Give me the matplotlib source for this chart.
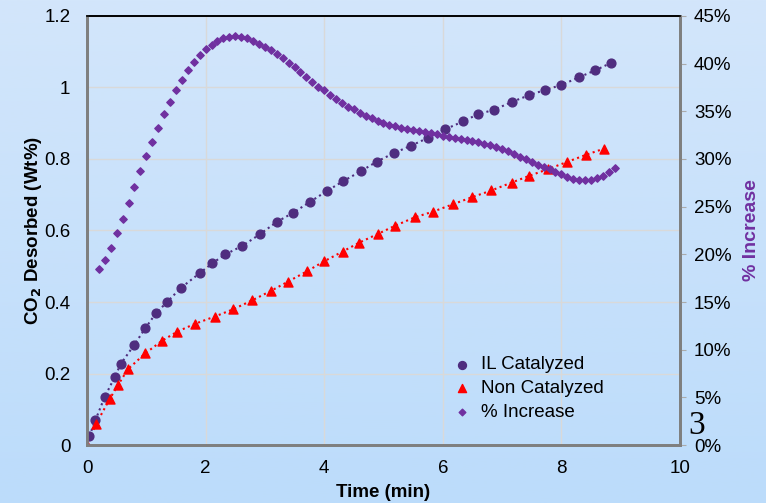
import numpy as np
import matplotlib
matplotlib.use("Agg")
import matplotlib.pyplot as plt
from matplotlib.ticker import FuncFormatter

plt.rcParams['font.family'] = ['Liberation Sans', 'DejaVu Sans']

# IL catalyzed (left axis)
il_time = [0.04, 0.14, 0.30, 0.47, 0.57, 0.80, 0.98, 1.16, 1.35, 1.58, 1.91, 2.11,
           2.33, 2.62, 2.92, 3.20, 3.48, 3.76, 4.04, 4.32, 4.62, 4.89, 5.17, 5.46,
           5.75, 6.04, 6.34, 6.59, 6.87, 7.17, 7.45, 7.72, 8.00, 8.29, 8.57, 8.84]
il_co2 = [0.025, 0.069, 0.135, 0.191, 0.227, 0.281, 0.326, 0.368, 0.400, 0.439, 0.482, 0.508,
          0.533, 0.557, 0.590, 0.624, 0.650, 0.680, 0.710, 0.738, 0.766, 0.793, 0.816, 0.837,
          0.859, 0.883, 0.905, 0.925, 0.938, 0.960, 0.978, 0.993, 1.007, 1.028, 1.048, 1.069]

# non catalyzed (left axis)
nc_time = [0.00, 0.15, 0.38, 0.52, 0.69, 0.98, 1.26, 1.52, 1.82, 2.15, 2.47, 2.79,
           3.10, 3.39, 3.71, 4.00, 4.31, 4.59, 4.90, 5.19, 5.53, 5.84, 6.18, 6.49,
           6.82, 7.16, 7.46, 7.78, 8.10, 8.42, 8.72]
nc_co2 = [0.000, 0.058, 0.128, 0.167, 0.212, 0.256, 0.291, 0.317, 0.339, 0.359, 0.380, 0.405,
          0.431, 0.457, 0.486, 0.514, 0.541, 0.566, 0.590, 0.613, 0.637, 0.653, 0.674, 0.693,
          0.712, 0.734, 0.753, 0.772, 0.792, 0.812, 0.829]

# % increase (right axis)
inc_time = [0.2, 0.3, 0.4, 0.5, 0.6, 0.7, 0.8, 0.9, 1.0, 1.1, 1.2, 1.3, 1.4, 1.5, 1.6,
            1.7, 1.8, 1.9, 2.0, 2.1, 2.2, 2.3, 2.4, 2.5, 2.6, 2.7, 2.8, 2.9, 3.0, 3.1,
            3.2, 3.3, 3.4, 3.5, 3.6, 3.7, 3.8, 3.9, 4.0, 4.1, 4.2, 4.3, 4.4, 4.5, 4.6,
            4.7, 4.8, 4.9, 5.0, 5.1, 5.2, 5.3, 5.4, 5.5, 5.6, 5.7, 5.8, 5.9, 6.0, 6.1,
            6.2, 6.3, 6.4, 6.5, 6.6, 6.7, 6.8, 6.9, 7.0, 7.1, 7.2, 7.3, 7.4, 7.5, 7.6,
            7.7, 7.8, 7.9, 8.0, 8.1, 8.2, 8.3, 8.4, 8.5, 8.6, 8.7, 8.8, 8.9]
inc_pct = [18.5, 19.4, 20.7, 22.2, 23.7, 25.4, 27.1, 28.7, 30.3, 31.8, 33.3, 34.7, 36.0, 37.2, 38.3,
           39.3, 40.2, 40.9, 41.5, 42.0, 42.4, 42.7, 42.8, 42.9, 42.8, 42.7, 42.4, 42.1, 41.8, 41.4,
           41.0, 40.6, 40.1, 39.6, 39.1, 38.6, 38.1, 37.6, 37.2, 36.7, 36.3, 35.9, 35.5, 35.2, 34.8,
           34.5, 34.3, 34.0, 33.8, 33.6, 33.5, 33.3, 33.1, 33.0, 32.9, 32.8, 32.7, 32.6, 32.4, 32.3,
           32.2, 32.1, 32.0, 31.9, 31.8, 31.6, 31.5, 31.3, 31.0, 30.8, 30.5, 30.2, 30.0, 29.7, 29.4,
           29.2, 28.9, 28.6, 28.4, 28.1, 27.9, 27.8, 27.8, 27.8, 28.0, 28.2, 28.6, 29.1]

il_color = "#4f2d7f"
nc_color = "#ff0000"
inc_color = "#7030a0"
fs = 13.5

fig = plt.figure(figsize=(7.66, 5.03), dpi=100)

# light blue gradient background
bg = fig.add_axes([0, 0, 1, 1], zorder=-10)
grad = np.linspace(0, 1, 256).reshape(-1, 1)
bg.imshow(grad, aspect="auto", cmap=matplotlib.colors.LinearSegmentedColormap.from_list(
    "bg", ["#d3e6fb", "#bcdcfb"]), extent=[0, 1, 0, 1], origin="upper")
bg.axis("off")

ax = fig.add_axes([0.1136, 0.1153, 0.7741, 0.8529])
ax.patch.set_alpha(0)
ax2 = ax.twinx()

ax.set_xlim(0, 10)
ax.set_ylim(0, 1.2)
ax2.set_ylim(0, 45)

ax.set_xticks([0, 2, 4, 6, 8, 10])
ax.set_yticks([0, 0.2, 0.4, 0.6, 0.8, 1.0, 1.2])
ax.yaxis.set_major_formatter(FuncFormatter(lambda v, p: f"{v:g}"))
ax2.set_yticks(np.arange(0, 50, 5))
ax2.yaxis.set_major_formatter(FuncFormatter(lambda v, p: f"{v:.0f}%"))

ax.grid(True, color="#d9d9d9", linewidth=1)
ax.set_axisbelow(True)

ax.plot(il_time, il_co2, linestyle=":", color=il_color, linewidth=1.5, zorder=2)
ax.plot(nc_time, nc_co2, linestyle=":", color=nc_color, linewidth=1.5, zorder=2)
ax.scatter(il_time, il_co2, marker="o", s=40, color=il_color, zorder=3, label="IL Catalyzed")
ax.scatter(nc_time, nc_co2, marker="^", s=42, color=nc_color, zorder=3, label="Non Catalyzed")
ax2.scatter(inc_time, inc_pct, marker="D", s=14, color=inc_color, zorder=3, label="% Increase")

for a in (ax, ax2):
    for side in ("left", "bottom", "right"):
        a.spines[side].set_color("#7f7f7f")
        a.spines[side].set_linewidth(2)
    a.spines["top"].set_color("black")
    a.spines["top"].set_linewidth(1.2)

ax.tick_params(axis="y", length=0, labelsize=fs, pad=12)
ax.tick_params(axis="x", length=0, labelsize=fs, pad=11)
ax2.tick_params(axis="y", length=4, color="#aaaaaa", labelsize=fs, pad=6)

ax.set_xlabel("Time (min)", fontsize=fs, fontweight="bold")
ax.xaxis.set_label_coords(0.5, -0.09)
ax.set_ylabel("CO$_\\mathbf{2}$ Desorbed (Wt%)", fontsize=fs, fontweight="bold")
ax.yaxis.set_label_coords(-0.072, 0.5)
ax2.set_ylabel("% Increase", fontsize=fs + 0.5, fontweight="bold", color=inc_color, rotation=90)
ax2.yaxis.set_label_coords(1.106, 0.5)

h1, l1 = ax.get_legend_handles_labels()
h2, l2 = ax2.get_legend_handles_labels()
ax.legend(h1 + h2, l1 + l2, loc="center left", bbox_to_anchor=(0.604, 0.131), borderaxespad=0,
          frameon=False, fontsize=fs, handlelength=1.0, handletextpad=0.5, labelspacing=0.36,
          markerscale=0.9)

fig.text(0.909, 0.153, "3", fontsize=24, family="Liberation Serif", ha="center", va="center")

fig.savefig("out.png", dpi=100)
